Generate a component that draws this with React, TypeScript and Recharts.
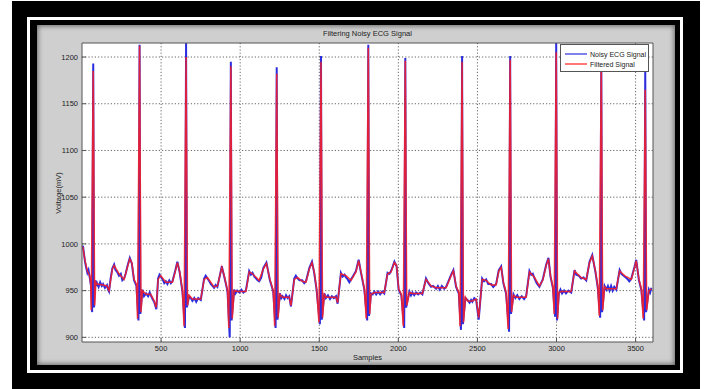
import React from 'react';
import { LineChart, Line, XAxis, YAxis, CartesianGrid, Legend } from 'recharts';

const xTicks = [500, 1000, 1500, 2000, 2500, 3000, 3500];
const yTicks = [900, 950, 1000, 1050, 1100, 1150, 1200];

// [sample, mV]
const filteredSignal: [number, number][] = [
  [0, 997], [6, 996], [19, 982], [34, 971], [49, 966], [55, 957], [58, 929], [71, 1185], [80, 934], [88, 959],
  [95, 957], [133, 956], [158, 955], [171, 950], [192, 973], [203, 977], [234, 968], [266, 962], [287, 975], [302, 984],
  [315, 980], [329, 962], [344, 957], [351, 920], [364, 1212], [373, 927], [382, 950], [405, 946], [435, 946], [456, 939],
  [470, 932], [481, 962], [498, 966], [530, 959], [572, 959], [589, 970], [603, 980], [618, 970], [635, 950], [645, 912],
  [658, 1200], [667, 934], [677, 945], [698, 941], [751, 941], [772, 962], [793, 964], [835, 954], [856, 955], [884, 975],
  [899, 966], [920, 950], [928, 910], [941, 1190], [950, 920], [962, 950], [981, 949], [1036, 949], [1057, 970], [1078, 968],
  [1120, 961], [1146, 973], [1166, 979], [1188, 962], [1209, 950], [1218, 912], [1231, 1182], [1240, 921], [1251, 946], [1268, 943],
  [1310, 943], [1321, 934], [1342, 962], [1363, 964], [1392, 960], [1416, 959], [1437, 973], [1454, 980], [1468, 970], [1483, 952],
  [1498, 916], [1511, 1195], [1521, 921], [1532, 946], [1542, 943], [1606, 943], [1616, 937], [1637, 968], [1669, 966], [1701, 961],
  [1732, 970], [1749, 982], [1764, 970], [1785, 952], [1797, 920], [1810, 1210], [1819, 925], [1827, 946], [1848, 948], [1911, 948],
  [1932, 968], [1954, 970], [1975, 980], [1989, 977], [2002, 952], [2019, 946], [2031, 912], [2044, 1196], [2053, 934], [2070, 948],
  [2089, 947], [2152, 947], [2175, 962], [2207, 955], [2239, 953], [2302, 953], [2334, 966], [2348, 971], [2365, 955], [2382, 948],
  [2390, 912], [2403, 1195], [2412, 916], [2424, 943], [2437, 939], [2468, 939], [2492, 941], [2508, 921], [2530, 962], [2555, 961],
  [2587, 956], [2618, 956], [2635, 971], [2650, 975], [2664, 959], [2681, 948], [2694, 909], [2707, 1197], [2716, 927], [2728, 945],
  [2745, 943], [2808, 943], [2829, 970], [2861, 964], [2892, 955], [2913, 961], [2935, 977], [2949, 984], [2962, 966], [2977, 954],
  [2985, 925], [2998, 1205], [3007, 920], [3015, 948], [3030, 949], [3093, 949], [3114, 971], [3156, 964], [3188, 962], [3209, 980],
  [3226, 987], [3247, 970], [3261, 954], [3270, 923], [3283, 1195], [3292, 929], [3304, 954], [3315, 952], [3378, 952], [3399, 971],
  [3430, 966], [3473, 962], [3494, 975], [3504, 982], [3521, 962], [3536, 952], [3548, 920], [3561, 1165], [3570, 929], [3584, 950],
  [3600, 952],
];

const noisySignal: [number, number][] = [
  [0, 995], [6, 998], [12, 990], [19, 981], [26, 975], [34, 969], [41, 972], [49, 964], [57, 955], [64, 927], [71, 1193], [76, 932],
  [84, 961], [90, 955], [95, 958], [105, 954], [115, 959], [125, 955], [133, 957], [145, 953], [158, 956], [165, 951], [171, 949],
  [180, 962], [192, 974], [203, 978], [212, 972], [222, 970], [234, 966], [245, 968], [255, 961], [266, 963], [276, 968], [287, 976],
  [302, 985], [315, 979], [329, 961], [344, 955], [357, 918], [364, 1213], [369, 925], [382, 951], [392, 944], [405, 947], [418, 944],
  [428, 948], [435, 945], [446, 941], [456, 938], [470, 930], [481, 963], [490, 967], [498, 965], [510, 962], [520, 958], [530, 960],
  [540, 957], [552, 961], [562, 958], [572, 960], [589, 971], [603, 981], [618, 969], [635, 949], [651, 910], [658, 1215], [663, 932],
  [677, 944], [688, 942], [698, 939], [710, 942], [722, 938], [735, 942], [751, 940], [772, 963], [782, 966], [793, 963], [805, 960],
  [815, 957], [825, 955], [835, 953], [845, 956], [856, 954], [870, 965], [884, 976], [899, 965], [910, 957], [920, 949], [934, 900],
  [941, 1195], [946, 918], [962, 951], [970, 947], [981, 950], [995, 948], [1008, 951], [1020, 948], [1036, 950], [1057, 971],
  [1068, 967], [1078, 969], [1090, 965], [1100, 963], [1110, 961], [1120, 960], [1133, 964], [1146, 974], [1166, 980], [1188, 961],
  [1209, 949], [1224, 910], [1231, 1189], [1236, 919], [1251, 947], [1260, 942], [1268, 944], [1280, 941], [1290, 945], [1300, 942],
  [1310, 944], [1321, 933], [1342, 963], [1352, 966], [1363, 963], [1375, 961], [1392, 961], [1405, 958], [1416, 960], [1437, 974],
  [1454, 981], [1468, 969], [1483, 951], [1504, 914], [1511, 1201], [1516, 919], [1532, 947], [1542, 942], [1555, 945], [1568, 941],
  [1580, 944], [1592, 942], [1606, 944], [1616, 936], [1637, 969], [1648, 965], [1660, 967], [1669, 964], [1680, 962], [1690, 959],
  [1701, 962], [1715, 966], [1732, 971], [1749, 983], [1764, 969], [1785, 951], [1803, 918], [1810, 1213], [1815, 923], [1827, 947],
  [1838, 946], [1848, 949], [1860, 946], [1872, 949], [1885, 946], [1898, 949], [1911, 947], [1932, 969], [1944, 968], [1954, 971],
  [1965, 976], [1975, 981], [1989, 976], [2002, 951], [2019, 945], [2037, 910], [2044, 1199], [2049, 932], [2070, 949], [2080, 945],
  [2089, 948], [2100, 945], [2112, 948], [2125, 946], [2140, 948], [2152, 946], [2175, 963], [2190, 958], [2207, 954], [2220, 955],
  [2239, 952], [2250, 955], [2262, 951], [2275, 955], [2290, 952], [2302, 954], [2334, 967], [2348, 972], [2365, 954], [2382, 947],
  [2396, 908], [2403, 1201], [2408, 914], [2424, 942], [2437, 940], [2450, 937], [2460, 940], [2468, 938], [2480, 942], [2492, 940],
  [2508, 919], [2530, 963], [2542, 960], [2555, 962], [2568, 957], [2587, 957], [2600, 954], [2618, 957], [2635, 972], [2650, 976],
  [2664, 958], [2681, 947], [2700, 906], [2707, 1201], [2712, 925], [2728, 946], [2740, 942], [2752, 945], [2765, 941], [2780, 944],
  [2795, 941], [2808, 944], [2829, 971], [2840, 967], [2850, 968], [2861, 963], [2875, 958], [2892, 954], [2913, 962], [2935, 978],
  [2949, 985], [2962, 965], [2977, 953], [2991, 922], [2998, 1215], [3003, 918], [3015, 947], [3025, 951], [3035, 947], [3048, 950],
  [3060, 947], [3075, 950], [3093, 948], [3114, 972], [3125, 967], [3140, 966], [3156, 963], [3170, 964], [3188, 961], [3209, 981],
  [3226, 988], [3247, 969], [3261, 953], [3276, 921], [3283, 1199], [3288, 927], [3304, 955], [3315, 951], [3325, 955], [3335, 950],
  [3345, 955], [3355, 950], [3365, 954], [3378, 951], [3399, 972], [3410, 968], [3430, 965], [3445, 963], [3460, 960], [3473, 963],
  [3494, 976], [3504, 983], [3521, 961], [3536, 951], [3554, 918], [3561, 1187], [3566, 927], [3584, 951], [3592, 948], [3600, 953],
];

const NOISY_COLOR = '#2d2de0';
const FILTERED_COLOR = '#ff1f1f';
const FONT = '"Liberation Sans", Arial, sans-serif';

const toRows = (pts: [number, number][]) => pts.map(([sample, mv]) => ({ sample, mv }));

const legendItems = [
  { name: 'Noisy ECG Signal', color: NOISY_COLOR },
  { name: 'Filtered Signal', color: FILTERED_COLOR },
];

const LegendBox = () => (
  <div
    style={{
      background: '#fff',
      border: '1px solid #555',
      width: 89,
      height: 28,
      fontFamily: FONT,
      fontSize: 7,
      color: '#222',
      boxSizing: 'border-box',
      paddingTop: 4,
      whiteSpace: 'nowrap',
      overflow: 'hidden',
    }}
  >
    {legendItems.map((item) => (
      <div key={item.name} style={{ display: 'flex', alignItems: 'center', height: 10 }}>
        <svg width={25} height={4} style={{ marginLeft: 4, flex: 'none' }}>
          <line x1={0} y1={2} x2={22} y2={2} stroke={item.color} strokeWidth={1.2} />
        </svg>
        <span>{item.name}</span>
      </div>
    ))}
  </div>
);

export default function App() {
  return (
    <div style={{ position: 'absolute', left: 0, top: 0, width: 705, height: 389, background: '#fff', overflow: 'hidden' }}>
      {/* black photo frame */}
      <div style={{ position: 'absolute', left: 12, top: 1, width: 688, height: 388, background: '#000' }} />
      <div
        style={{
          position: 'absolute',
          left: 27,
          top: 17,
          width: 656,
          height: 356,
          border: '3px solid #fff',
          boxSizing: 'border-box',
        }}
      />
      {/* figure background */}
      <div
        style={{
          position: 'absolute',
          left: 37,
          top: 25,
          width: 638,
          height: 340,
          background: '#cfcfcf',
          boxShadow: 'inset 0 0 5px 1px rgba(0,0,0,0.5)',
        }}
      >
        <LineChart
          width={638}
          height={340}
          margin={{ top: 17, right: 21, bottom: 0, left: 0 }}
          style={{ fontFamily: FONT }}
        >
          <CartesianGrid
            stroke="#666"
            strokeDasharray="1.2 2"
            fill="#fff"
            fillOpacity={1}
            horizontalValues={yTicks}
            verticalValues={xTicks}
          />
          <XAxis
            dataKey="sample"
            type="number"
            domain={[0, 3610]}
            ticks={xTicks}
            allowDataOverflow
            height={23}
            stroke="#555"
            tickSize={-4}
            tickMargin={8}
            tick={{ fontSize: 7.5, fill: '#222' }}
            interval={0}
          />
          <XAxis
            xAxisId="top"
            orientation="top"
            dataKey="sample"
            type="number"
            domain={[0, 3610]}
            ticks={xTicks}
            height={1}
            stroke="#555"
            tickSize={-4}
            tick={false}
          />
          <YAxis
            type="number"
            domain={[895, 1215]}
            ticks={yTicks}
            allowDataOverflow
            width={45}
            stroke="#555"
            tickSize={-4}
            tickMargin={8}
            tick={{ fontSize: 7.5, fill: '#222' }}
            interval={0}
          />
          <YAxis
            yAxisId="right"
            orientation="right"
            type="number"
            domain={[895, 1215]}
            ticks={yTicks}
            width={1}
            stroke="#555"
            tickSize={-4}
            tick={false}
          />
          <Line
            data={toRows(noisySignal)}
            dataKey="mv"
            name="Noisy ECG Signal"
            stroke={NOISY_COLOR}
            strokeWidth={2}
            dot={false}
            activeDot={false}
            isAnimationActive={false}
          />
          <Line
            data={toRows(filteredSignal)}
            dataKey="mv"
            name="Filtered Signal"
            stroke={FILTERED_COLOR}
            strokeOpacity={0.85}
            strokeWidth={1.5}
            dot={false}
            activeDot={false}
            isAnimationActive={false}
          />
          <Legend
            layout="vertical"
            align="center"
            verticalAlign="middle"
            content={() => <LegendBox />}
            wrapperStyle={{ left: 523, top: 19, width: 89, height: 28 }}
          />
        </LineChart>
      </div>
      {/* titles */}
      <div
        style={{
          position: 'absolute',
          left: 82,
          width: 571,
          top: 29,
          textAlign: 'center',
          fontFamily: FONT,
          fontSize: 7.5,
          color: '#222',
        }}
      >
        Filtering Noisy ECG Signal
      </div>
      <div
        style={{
          position: 'absolute',
          left: 82,
          width: 571,
          top: 353,
          textAlign: 'center',
          fontFamily: FONT,
          fontSize: 7.5,
          color: '#222',
        }}
      >
        Samples
      </div>
      <div
        style={{
          position: 'absolute',
          left: 58,
          top: 193,
          transform: 'translate(-50%, -50%) rotate(-90deg)',
          fontFamily: FONT,
          fontSize: 7.5,
          color: '#222',
          whiteSpace: 'nowrap',
        }}
      >
        Voltage(mV)
      </div>
    </div>
  );
}
